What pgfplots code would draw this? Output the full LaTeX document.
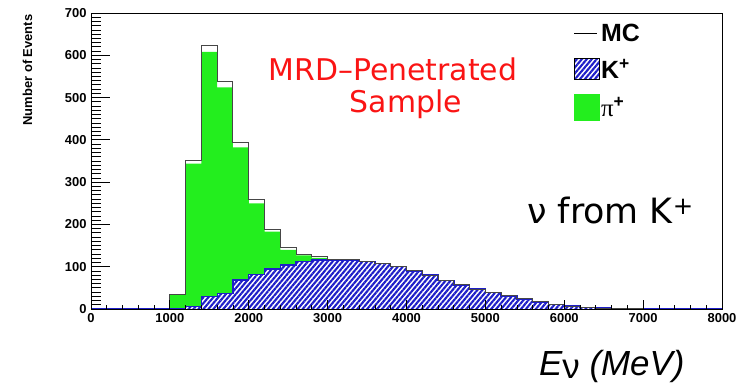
\documentclass[border=0pt]{standalone}
\usepackage{pgfplots}
\pgfplotsset{compat=1.18}
\usepackage{fontspec}
\setmainfont{Liberation Sans}
\newfontfamily\dejavu{DejaVu Sans}
\newfontfamily\serif{Liberation Serif}
\usetikzlibrary{patterns.meta}
\definecolor{hgreen}{RGB}{35,238,30}
\definecolor{kblue}{RGB}{30,30,200}
\definecolor{mcgrey}{RGB}{70,70,70}
\definecolor{rtred}{RGB}{250,20,20}

\tikzset{hatchK/.style={fill=white, postaction={pattern={Lines[angle=50,distance=3.8bp,line width=2.1bp]}, pattern color=kblue}}}
\pgfplotsset{
  tick label style={font=\bfseries\fontsize{13}{13}\selectfont},
  /pgf/number format/assume math mode=true,
  /pgf/number format/1000 sep={},
}

% bin left edge, MC, green (pi + K), K
\pgfplotstableread{
x    mc   gr   k
0    0    0    0
1000 35   34   0
1200 352  344  6
1400 624  608  29
1600 537  524  37
1800 393  382  69
2000 260  250  82
2200 187  183  95
2400 145  140  104
2600 130  127  112
2800 125  121  116
3000 118  116  115
3200 117  116  116
3400 113  113  113
3600 108  108  108
3800 100  100  100
4000 90   90   90
4200 80   80   80
4400 68   68   68
4600 57   57   57
4800 47   47   47
5000 39   39   39
5200 31   31   31
5400 24   24   24
5600 17   17   17
5800 11   11   11
6000 7    7    7
6200 4    4    4
6400 2    2    2
6600 1    1    1
6800 1    1    1
7000 0    0    0
8000 0    0    0
}\hist

\begin{document}
\begin{tikzpicture}[x=1bp,y=1bp]
\path[use as bounding box] (0,0) rectangle (752,386);
\begin{axis}[
  at={(91bp,77bp)}, anchor=south west, scale only axis,
  width=631bp, height=296bp,
  xmin=0, xmax=8000, ymin=0, ymax=700,
  axis on top,
  axis line style={black, line width=0.9bp},
  xtick={0,1000,...,8000}, minor x tick num=4,
  ytick=\empty,
  tick align=inside, xtick pos=bottom,
  major tick length=9bp, minor tick length=4.5bp,
  tick style={black, line width=0.8bp},
  xticklabel style={yshift=-1bp},
  legend style={at={(0.765,0.968)}, anchor=north west, draw=none, fill=none,
    inner sep=0pt, font=\bfseries\fontsize{25}{25}\selectfont,
    row sep=13bp, nodes={inner sep=1.5bp}},
  legend cell align=left,
]
\addplot[const plot, fill=hgreen, draw=none, forget plot] table[x=x,y=gr]{\hist} \closedcycle;
\addplot[const plot, hatchK, draw=none, forget plot] table[x=x,y=k]{\hist} \closedcycle;
\addplot[const plot, kblue, line width=1.4bp, forget plot] table[x=x,y=k]{\hist};
\addplot[const plot, mcgrey, line width=1bp, forget plot] table[x=x,y=mc]{\hist};
\addlegendimage{legend image code/.code={\draw[black, line width=0.8bp] (0bp,0bp) -- (23bp,0bp);}}
\addlegendentry{MC}
\addlegendimage{legend image code/.code={\path[hatchK] (0bp,-10bp) rectangle (25bp,11bp);}}
\addlegendentry{K\textsuperscript{+}}
\addlegendimage{legend image code/.code={\fill[hgreen] (0bp,-13bp) rectangle (25bp,13bp);}}
\addlegendentry{{\mdseries\serif π}\textsuperscript{+}}
\end{axis}
\begin{axis}[
  at={(91bp,77bp)}, anchor=south west, scale only axis,
  width=631bp, height=296bp,
  xmin=0, xmax=8000, ymin=0, ymax=700,
  axis line style={black, line width=0.9bp},
  xtick=\empty,
  ytick={0,100,...,700}, minor y tick num=9,
  tick align=inside, ytick pos=left,
  major tick length=19bp, minor tick length=9.5bp,
  tick style={black, line width=0.8bp},
  yticklabel style={xshift=-1bp},
]
\end{axis}
\node[rotate=90, font=\bfseries\fontsize{13}{13}\selectfont] at (27.5,316) {Number of Events};
\node[rtred, font=\dejavu\fontsize{30}{30}\selectfont, anchor=base] at (393,306) {MRD–Penetrated};
\node[rtred, font=\dejavu\fontsize{30}{30}\selectfont, anchor=base] at (406,274) {Sample};
\node[font=\dejavu\fontsize{35}{35}\selectfont, anchor=base west, inner sep=0pt] at (527,163) {ν from K\textsuperscript{+}};
\node[font=\itshape\fontsize{35}{35}\selectfont, anchor=base west, inner sep=0pt] at (539,11) {E\raisebox{-3bp}{\upshape ν}\ (MeV)};
\end{tikzpicture}
\end{document}
